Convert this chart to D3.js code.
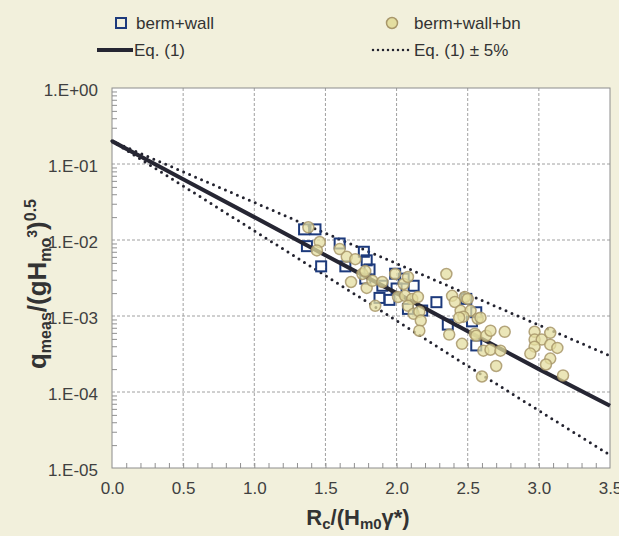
<!DOCTYPE html>
<html>
<head>
<meta charset="utf-8">
<script src="https://cdn.jsdelivr.net/npm/d3@7"></script>
<style>
  html, body { margin: 0; padding: 0; background: #F2F0DC; }
  svg { display: block; font-family: "Liberation Sans", Arial, sans-serif; }
</style>
</head>
<body>
<svg id="chart" width="619" height="536"></svg>
<script>
// axis ticks
const xTicks = [0, 0.5, 1.0, 1.5, 2.0, 2.5, 3.0, 3.5];
const xTickLabels = ["0.0", "0.5", "1.0", "1.5", "2.0", "2.5", "3.0", "3.5"];
const yTicks = [1, 1e-1, 1e-2, 1e-3, 1e-4, 1e-5];
const yTickLabels = ["1.E+00", "1.E-01", "1.E-02", "1.E-03", "1.E-04", "1.E-05"];

// berm+wall (squares)
const wallX = [1.35, 1.43, 1.37, 1.47, 1.60, 1.64, 1.77, 1.79, 1.78, 1.81, 1.90, 1.88, 1.95,
  1.99, 2.05, 2.00, 2.12, 2.08, 2.18, 2.28, 2.36, 2.49, 2.53, 2.56, 2.56];
const wallQ = [0.0138, 0.0138, 0.0083, 0.0045, 0.0090, 0.0045, 0.0070, 0.0054, 0.0031, 0.0041,
  0.0025, 0.00173, 0.00163, 0.0036, 0.0031, 0.0023, 0.0025, 0.00124, 0.00118, 0.00152,
  0.00077, 0.00168, 0.00085, 0.00041, 0.00112];

// berm+wall+bn (circles)
const bnX = [1.38, 1.46, 1.44, 1.60, 1.65, 1.71, 1.68, 1.76, 1.78, 1.79, 1.83, 1.85, 1.90,
  1.99, 2.01, 2.05, 2.08, 2.06, 2.11, 2.15, 2.08, 2.12, 2.16, 2.17, 2.16,
  2.35, 2.39, 2.41, 2.45, 2.48, 2.52, 2.47, 2.44, 2.50, 2.57, 2.37, 2.46, 2.55, 2.59,
  2.56, 2.63, 2.66, 2.76, 2.61, 2.66, 2.73, 2.70, 2.60,
  2.97, 2.97, 3.02, 3.08, 2.97, 3.08, 3.13, 2.94, 3.08, 3.05, 3.17];
const bnQ = [0.0147, 0.0094, 0.0073, 0.0076, 0.0060, 0.0056, 0.0028, 0.00357, 0.0039, 0.00234,
  0.0029, 0.00136, 0.0028, 0.00357, 0.00178, 0.00264, 0.00326, 0.00184, 0.00168, 0.00178,
  0.00136, 0.00107, 0.00114, 0.00087, 0.00064,
  0.00357, 0.00184, 0.00153, 0.00117, 0.00178, 0.00117, 0.00098, 0.00095, 0.00168, 0.00092,
  0.00057, 0.00043, 0.000585, 0.00095,
  0.00055, 0.00055, 0.00064, 0.00062, 0.00035, 0.00036, 0.00035, 0.00022, 0.00016,
  0.00062, 0.00049, 0.00049, 0.00060, 0.000395, 0.00042, 0.00038, 0.00032, 0.000275,
  0.00023, 0.000165];

// Eq. (1) and its +/- 5% band
const eqX = [0, 0.5, 1.0, 1.5, 2.0, 2.5, 3.0, 3.5];
const eqQ = [0.2, 0.063, 0.020, 0.0063, 0.0020, 0.00063, 0.00020, 0.000066];
const eqUpQ = [0.2, 0.079, 0.0312, 0.0123, 0.0049, 0.00193, 0.00076, 0.00030];
const eqLoQ = [0.2, 0.0514, 0.0132, 0.0034, 0.00087, 0.00022, 0.000057, 0.0000148];

const svg = d3.select("#chart");
const margin = { top: 88, right: 9, bottom: 68, left: 112 };
const width = 619, height = 536;

const x = d3.scaleLinear().domain([0, 3.5]).range([margin.left, width - margin.right]);
const y = d3.scaleLog().domain([1e-5, 1]).range([height - margin.bottom, margin.top]);

// plot background
svg.append("rect")
  .attr("x", x(0)).attr("y", y(1))
  .attr("width", x(3.5) - x(0)).attr("height", y(1e-5) - y(1))
  .attr("fill", "#fff");

// grid
const grid = svg.append("g").attr("stroke", "#a0a0a0").attr("stroke-dasharray", "3,2");
grid.selectAll(".vg").data(xTicks.slice(1, -1)).join("line")
  .attr("x1", d => x(d)).attr("x2", d => x(d))
  .attr("y1", y(1)).attr("y2", y(1e-5));
grid.selectAll(".hg").data(yTicks.slice(1, -1)).join("line")
  .attr("x1", x(0)).attr("x2", x(3.5))
  .attr("y1", d => y(d)).attr("y2", d => y(d));

// minor ticks (inside)
const yMinor = [];
for (let e = -5; e < 0; e++) for (let m = 2; m <= 9; m++) yMinor.push(m * Math.pow(10, e));
const xMinor = d3.range(1, 35).map(i => i / 10);

const minorL = svg.append("g")
  .attr("transform", `translate(${x(0)},0)`)
  .call(d3.axisLeft(y).tickValues(yMinor).tickSize(-5).tickFormat(""));
const minorB = svg.append("g")
  .attr("transform", `translate(0,${y(1e-5)})`)
  .call(d3.axisBottom(x).tickValues(xMinor).tickSize(-5).tickFormat(""));
[minorL, minorB].forEach(g => {
  g.select(".domain").remove();
  g.selectAll(".tick line").attr("stroke", "#909090");
});

// tick labels
const yAxis = svg.append("g")
  .attr("transform", `translate(${x(0)},0)`)
  .call(d3.axisLeft(y).tickValues(yTicks).tickSize(0).tickPadding(14)
    .tickFormat((d, i) => yTickLabels[i]));
const xAxis = svg.append("g")
  .attr("transform", `translate(0,${y(1e-5)})`)
  .call(d3.axisBottom(x).tickValues(xTicks).tickSize(0).tickPadding(14)
    .tickFormat((d, i) => xTickLabels[i]));
[yAxis, xAxis].forEach(g => {
  g.select(".domain").remove();
  g.selectAll("text").attr("font-size", 17).attr("fill", "#404040")
    .attr("font-family", "Liberation Sans, Arial, sans-serif");
});
yAxis.selectAll("text").attr("dy", "0.45em");

// frame
svg.append("rect")
  .attr("x", x(0)).attr("y", y(1))
  .attr("width", x(3.5) - x(0)).attr("height", y(1e-5) - y(1))
  .attr("fill", "none").attr("stroke", "#8c8c8c");

// equation lines
const line = d3.line().x(d => x(d[0])).y(d => y(d[1]));
const eqPts = eqX.map((v, i) => [v, eqQ[i]]);
const upPts = eqX.map((v, i) => [v, eqUpQ[i]]);
const loPts = eqX.map((v, i) => [v, eqLoQ[i]]);

[upPts, loPts].forEach(p => {
  svg.append("path").datum(p).attr("d", line)
    .attr("fill", "none").attr("stroke", "#23232f").attr("stroke-width", 3)
    .attr("stroke-linecap", "round").attr("stroke-dasharray", "0,6.5");
});

// squares
const sq = 10;
svg.append("g").selectAll("rect").data(wallX.map((v, i) => [v, wallQ[i]])).join("rect")
  .attr("x", d => x(d[0]) - sq / 2).attr("y", d => y(d[1]) - sq / 2)
  .attr("width", sq).attr("height", sq)
  .attr("fill", "none").attr("stroke", "#1d3a7c").attr("stroke-width", 2);

svg.append("path").datum(eqPts).attr("d", line)
  .attr("fill", "none").attr("stroke", "#262633").attr("stroke-width", 4);

// circles
svg.append("g").selectAll("circle").data(bnX.map((v, i) => [v, bnQ[i]])).join("circle")
  .attr("cx", d => x(d[0])).attr("cy", d => y(d[1])).attr("r", 5.5)
  .attr("fill", "#e4dea0").attr("fill-opacity", 0.75)
  .attr("stroke", "#a8976a").attr("stroke-opacity", 0.85).attr("stroke-width", 1.5);

// axis titles
const xt = svg.append("text")
  .attr("x", 358).attr("y", 525).attr("text-anchor", "middle")
  .attr("font-size", 22).attr("font-weight", "bold").attr("fill", "#333");
xt.append("tspan").text("R");
xt.append("tspan").attr("font-size", 15).attr("dy", 4).text("c");
xt.append("tspan").attr("dy", -4).text("/(H");
xt.append("tspan").attr("font-size", 15).attr("dy", 4).text("m0");
xt.append("tspan").attr("dy", -4).text("γ*)");

const yt = svg.append("text")
  .attr("transform", "translate(46,284) rotate(-90)").attr("text-anchor", "middle")
  .attr("font-size", 26).attr("font-weight", "bold").attr("fill", "#333");
yt.append("tspan").text("q");
yt.append("tspan").attr("font-size", 16).attr("dy", 5).text("meas");
yt.append("tspan").attr("dy", -5).text("/(gH");
yt.append("tspan").attr("font-size", 16).attr("dy", 5).text("mo");
yt.append("tspan").attr("font-size", 14).attr("dy", -14).text("3");
yt.append("tspan").attr("dy", 9).text(")");
yt.append("tspan").attr("font-size", 16).attr("dy", -10).text("0.5");

// legend
const leg = svg.append("g").attr("font-size", 17).attr("fill", "#333");
leg.append("rect").attr("x", 116).attr("y", 18).attr("width", sq).attr("height", sq)
  .attr("fill", "none").attr("stroke", "#1d3a7c").attr("stroke-width", 2);
leg.append("text").attr("x", 136).attr("y", 29).text("berm+wall");
leg.append("circle").attr("cx", 392).attr("cy", 23).attr("r", 5.5)
  .attr("fill", "#e4dea0").attr("stroke", "#a8976a").attr("stroke-width", 1.5);
leg.append("text").attr("x", 414).attr("y", 29).text("berm+wall+bn");
leg.append("line").attr("x1", 97).attr("x2", 133).attr("y1", 50).attr("y2", 50)
  .attr("stroke", "#262633").attr("stroke-width", 4);
leg.append("text").attr("x", 134).attr("y", 56).text("Eq. (1)");
leg.append("line").attr("x1", 373).attr("x2", 409).attr("y1", 50).attr("y2", 50)
  .attr("stroke", "#23232f").attr("stroke-width", 2.5).attr("stroke-linecap", "round")
  .attr("stroke-dasharray", "0,5");
leg.append("text").attr("x", 414).attr("y", 56).text("Eq. (1) ± 5%");
</script>
</body>
</html>
